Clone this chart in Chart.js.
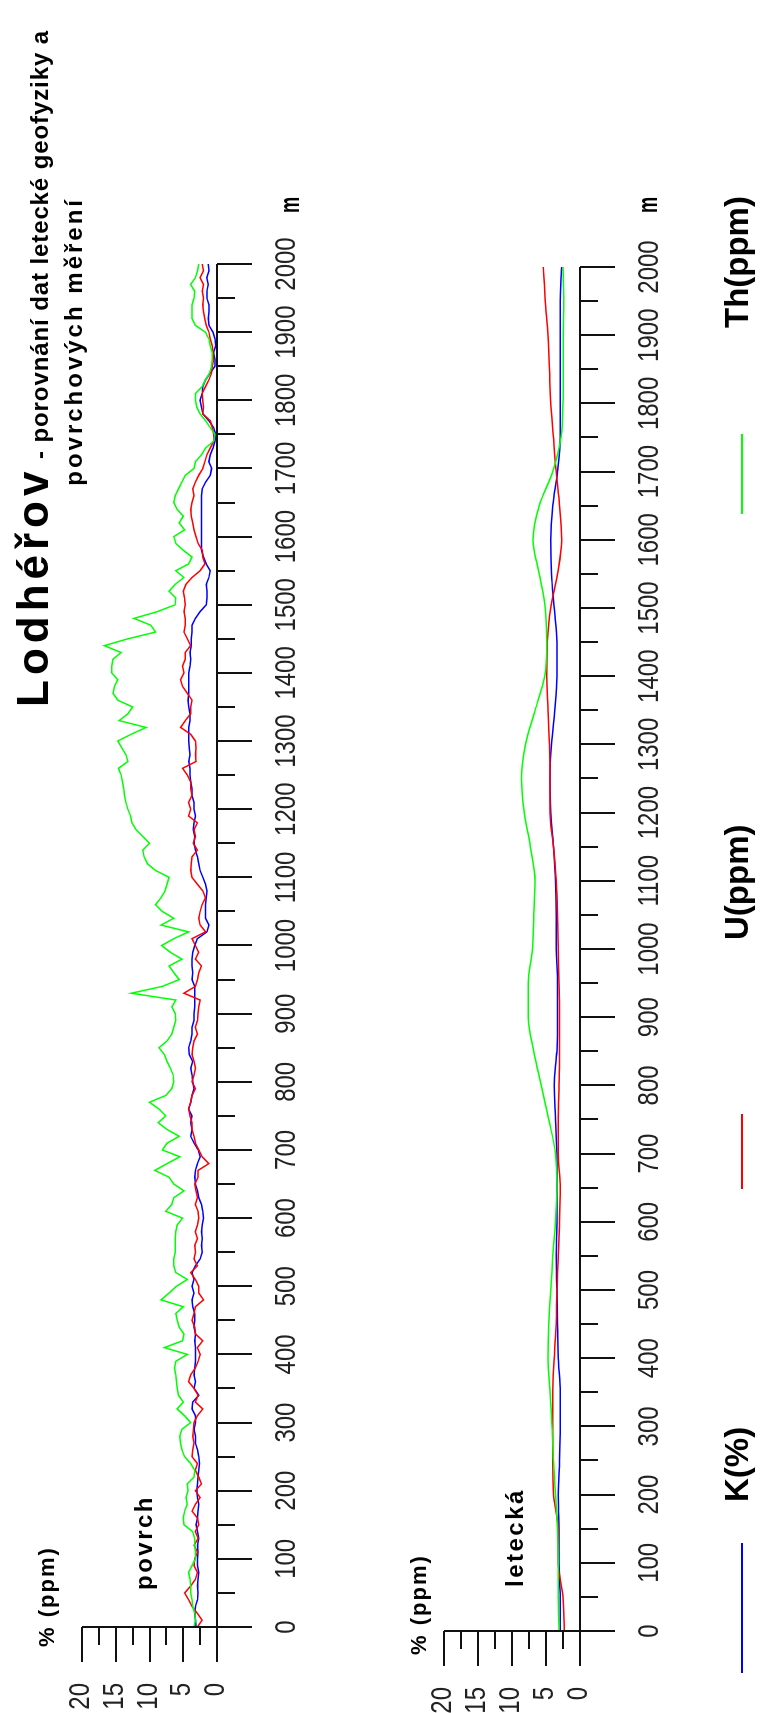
<!DOCTYPE html>
<html>
<head>
<meta charset="utf-8">
<script src="https://cdn.jsdelivr.net/npm/chart.js@4"></script>
<style>
  html, body { margin: 0; padding: 0; background: #fff; width: 779px; height: 1713px; overflow: hidden; }
  #land {
    position: absolute; left: 0; top: 0; width: 1713px; height: 779px;
    transform-origin: 0 0; transform: translate(0, 1713px) rotate(-90deg);
    font-family: "Liberation Sans", Arial, sans-serif; color: #000;
  }
  #land canvas { position: absolute; left: 0; top: 0; }
  .t { position: absolute; white-space: nowrap; font-weight: bold; line-height: 1; }
  .leg { position: absolute; height: 2px; }
</style>
</head>
<body>
<div id="land">
  <canvas id="surf" width="1713" height="779"></canvas>
  <canvas id="air" width="1713" height="779"></canvas>

  <div class="t" style="left:1006px; top:11px; display:flex; align-items:baseline;">
    <span style="font-size:44px; letter-spacing:5px;">Lodhéřov</span>
    <span style="font-size:24px; letter-spacing:0.9px; white-space:pre;"> - porovnání dat letecké geofyziky a</span>
  </div>
  <div class="t" style="right:197px; top:62px; font-size:24px; letter-spacing:3px;">povrchových měření</div>

  <div class="t" style="left:66px; top:36px; font-size:22px; letter-spacing:2px;">% (ppm)</div>
  <div class="t" style="left:58px; top:408px; font-size:22px; letter-spacing:2px;">% (ppm)</div>
  <div class="t" style="left:123px; top:132px; font-size:24px; letter-spacing:2.5px;">povrch</div>
  <div class="t" style="left:126px; top:503px; font-size:24px; letter-spacing:2.5px;">letecká</div>
  <div class="t" style="left:1500px; top:276px; font-size:28px; transform:scaleX(0.65); transform-origin:0 0;">m</div>
  <div class="t" style="left:1500px; top:634px; font-size:28px; transform:scaleX(0.65); transform-origin:0 0;">m</div>

  <div class="leg" style="left:40px; top:741px; width:130px; background:#0000ff;"></div>
  <div class="t" style="left:211px; top:720px; font-size:33px;">K(%)</div>
  <div class="leg" style="left:524px; top:741px; width:75px; background:#ff0000;"></div>
  <div class="t" style="left:773px; top:720px; font-size:33px;">U(ppm)</div>
  <div class="leg" style="left:1199px; top:741px; width:80px; background:#00ff00;"></div>
  <div class="t" style="left:1385px; top:720px; font-size:33px;">Th(ppm)</div>
</div>

<script>
// distance along profile, m
const stepSurf = 10;
const stepAir = 50;
const xTicksMajor = [0, 100, 200, 300, 400, 500, 600, 700, 800, 900, 1000, 1100, 1200, 1300, 1400, 1500, 1600, 1700, 1800, 1900, 2000];
const yTickLabels = [0, 5, 10, 15, 20];

// povrch (surface measurement), every 10 m from 0 to 2000
const thSurf = [
  3.4, 3.2, 3.3, 3.6, 3.7, 3.9, 3.9, 4.0, 4.2, 3.7,
  3.2, 3.2, 3.3, 3.3, 3.6, 4.9, 5.0, 4.8, 4.4, 4.6,
  4.3, 4.4, 3.4, 3.3, 3.9, 4.8, 5.2, 5.4, 5.5, 5.2,
  3.9, 4.8, 5.9, 5.0, 5.7, 5.9, 6.0, 6.1, 6.3, 6.1,
  4.4, 7.8, 5.1, 4.9, 5.6, 5.9, 6.1, 5.0, 8.3, 7.1,
  6.0, 4.4, 6.1, 6.4, 6.4, 6.2, 6.2, 6.2, 6.1, 5.9,
  5.1, 7.6, 6.7, 6.4, 4.9, 6.4, 7.1, 9.2, 7.4, 5.5,
  8.1, 7.4, 5.6, 7.4, 8.7, 7.6, 8.6, 10.0, 7.6, 6.7,
  6.4, 6.5, 6.9, 7.4, 7.8, 8.6, 7.4, 6.7, 6.4, 6.1,
  6.2, 6.7, 6.1, 12.7, 8.1, 5.6, 6.4, 7.1, 5.2, 6.9,
  8.2, 6.4, 4.2, 8.3, 6.4, 8.1, 9.1, 8.3, 7.7, 7.4,
  7.1, 9.1, 10.3, 10.8, 11.0, 10.0, 11.0, 12.0, 12.6, 12.8,
  13.2, 13.5, 13.7, 13.8, 14.0, 14.2, 14.6, 13.2, 13.5, 14.1,
  14.7, 12.7, 10.5, 14.5, 13.2, 12.5, 14.7, 15.4, 15.2, 14.7,
  15.6, 15.6, 15.4, 14.2, 16.7, 13.2, 9.1, 9.8, 12.3, 8.8,
  6.2, 6.1, 7.1, 6.2, 4.9, 6.1, 4.2, 3.7, 5.0, 6.1,
  6.4, 4.8, 5.6, 5.0, 5.9, 6.4, 6.2, 5.7, 5.2, 4.7,
  3.4, 3.2, 2.3, 1.7, 0.5, 0.3, 1.0, 1.7, 2.5, 3.0,
  3.2, 3.2, 2.2, 1.7, 1.1, 0.8, 0.7, 0.7, 1.0, 1.2,
  1.7, 3.2, 3.7, 3.7, 3.7, 3.4, 3.3, 3.9, 3.2, 2.9,
  2.7
];
const uSurf = [
  2.9, 2.2, 2.9, 3.7, 4.2, 4.8, 3.9, 3.2, 2.9, 3.4,
  3.3, 2.9, 3.4, 2.8, 3.2, 2.7, 2.9, 3.7, 3.2, 2.5,
  3.2, 2.3, 2.7, 3.2, 2.9, 3.7, 3.6, 3.4, 3.6, 3.5,
  3.4, 2.9, 2.1, 3.2, 2.8, 3.4, 4.2, 3.9, 3.2, 2.8,
  2.5, 2.9, 2.1, 3.2, 3.3, 3.7, 3.4, 3.2, 2.0, 2.7,
  2.7, 3.2, 3.9, 2.9, 3.4, 3.2, 3.3, 2.9, 3.2, 2.9,
  2.7, 2.8, 3.2, 2.9, 3.1, 3.3, 2.8, 2.8, 1.2, 2.2,
  2.7, 3.2, 3.4, 3.7, 3.7, 4.0, 4.2, 3.9, 3.7, 3.2,
  3.7, 3.4, 3.2, 3.4, 3.7, 3.6, 3.4, 2.9, 3.2, 2.9,
  2.8, 2.7, 2.5, 4.9, 3.2, 2.9, 2.7, 2.3, 3.2, 2.7,
  3.2, 3.7, 1.7, 2.5, 2.7, 2.5, 2.2, 1.7, 2.1, 2.9,
  3.7, 3.9, 3.8, 3.7, 2.9, 3.5, 3.2, 3.4, 2.9, 4.2,
  3.9, 4.2, 3.7, 3.9, 3.9, 4.4, 5.1, 3.1, 3.2, 3.1,
  3.2, 3.9, 5.4, 4.7, 3.9, 3.9, 3.7, 4.4, 5.1, 5.4,
  4.9, 5.1, 4.7, 4.7, 3.9, 4.4, 4.9, 4.7, 4.7, 4.9,
  4.7, 4.8, 5.0, 4.6, 3.7, 2.5, 1.8, 2.1, 2.2, 2.8,
  3.1, 3.4, 3.6, 3.8, 3.9, 3.7, 3.4, 3.6, 3.2, 2.7,
  2.1, 1.8, 1.5, 1.0, 0.5, 0.5, 0.7, 1.0, 2.1, 2.0,
  2.1, 2.2, 1.7, 1.2, 0.8, 0.7, 0.5, 0.6, 0.7, 1.0,
  1.2, 1.6, 1.8, 2.0, 2.1, 2.0, 2.2, 2.0, 2.5, 2.0,
  2.2
];
const kSurf = [
  3.1, 3.2, 3.3, 3.2, 2.9, 2.8, 2.9, 2.8, 2.7, 2.9,
  2.9, 2.8, 2.9, 2.7, 2.9, 3.1, 2.9, 2.8, 2.7, 2.9,
  3.0, 2.9, 2.8, 2.7, 2.6, 2.7, 2.9, 3.2, 3.2, 3.4,
  3.2, 3.2, 3.7, 3.6, 2.7, 3.4, 3.2, 3.4, 3.3, 3.2,
  3.2, 3.2, 3.3, 3.2, 3.4, 3.3, 3.3, 3.6, 3.7, 3.4,
  3.7, 3.4, 3.7, 3.2, 2.5, 2.2, 2.3, 2.2, 2.3, 2.2,
  2.0, 2.1, 2.3, 2.7, 2.9, 3.2, 3.3, 3.2, 2.9, 2.5,
  2.8, 3.4, 3.9, 3.7, 3.9, 3.7, 4.2, 3.9, 3.7, 3.4,
  3.6, 3.7, 3.9, 3.6, 4.1, 4.2, 3.9, 3.7, 3.7, 3.4,
  3.4, 3.3, 3.3, 3.3, 3.3, 3.7, 3.6, 3.7, 3.7, 3.6,
  3.3, 2.9, 1.5, 1.2, 1.7, 1.7, 1.7, 1.6, 1.5, 1.7,
  2.1, 2.5, 2.7, 2.9, 3.2, 3.4, 3.3, 3.5, 3.4, 3.2,
  3.4, 3.4, 3.7, 3.7, 3.9, 4.0, 4.0, 4.2, 4.0, 4.1,
  4.2, 4.2, 4.2, 4.0, 4.0, 4.2, 4.3, 4.2, 4.2, 4.2,
  4.2, 4.0, 3.9, 4.0, 3.8, 3.8, 3.7, 3.7, 3.2, 2.5,
  1.6, 1.5, 1.5, 1.6, 1.2, 1.0, 1.6, 2.0, 2.3, 2.3,
  2.3, 2.3, 2.3, 2.3, 2.3, 2.3, 2.3, 2.2, 1.7, 1.0,
  0.8, 1.2, 1.0, 0.6, 0.3, 0.2, 0.5, 1.2, 2.1, 2.3,
  2.5, 2.2, 2.1, 1.7, 1.0, 0.3, 0.3, 0.5, 0.2, 0.3,
  0.6, 1.2, 1.3, 1.2, 1.2, 1.5, 1.5, 1.3, 1.5, 1.2,
  1.3
];

// letecká (airborne), every 50 m from 0 to 2000
const thAir = [
  3.1, 3.2, 3.2, 3.3, 3.6, 3.9, 4.1, 4.4, 4.7, 4.6,
  4.3, 4.0, 3.6, 3.4, 3.6, 4.6, 5.7, 6.8, 7.6, 7.6,
  7.0, 6.8, 6.6, 7.3, 8.2, 8.6, 8.0, 6.6, 5.2, 4.9,
  5.1, 6.0, 6.9, 6.0, 4.0, 2.8, 2.5, 2.45, 2.45, 2.4,
  2.5
];
const uAir = [
  2.3, 2.5, 3.2, 3.2, 3.9, 4.0, 4.0, 4.0, 3.8, 3.5,
  3.4, 3.2, 3.0, 2.9, 3.2, 3.2, 3.1, 3.0, 3.0, 3.1,
  3.2, 3.3, 3.5, 3.9, 4.4, 4.4, 4.5, 4.7, 4.9, 4.8,
  4.3, 3.3, 2.7, 3.0, 3.5, 3.9, 4.3, 4.5, 4.7, 5.1,
  5.4
];
const kAir = [
  2.9, 2.9, 3.1, 3.1, 3.2, 3.0, 2.9, 2.9, 3.2, 3.3,
  3.4, 3.5, 3.4, 3.4, 3.4, 3.6, 3.8, 3.4, 3.3, 3.3,
  3.5, 3.5, 3.6, 3.9, 4.3, 4.4, 4.2, 3.7, 3.4, 3.4,
  3.8, 4.2, 4.3, 4.0, 3.3, 2.9, 2.9, 2.9, 2.9, 2.9,
  2.7
];

const toPoints = (vals, step) => vals.map((v, i) => ({ x: i * step, y: v }));

// hand-drawn axes, positioned from the chart's own scales
const profileAxes = {
  id: 'profileAxes',
  afterDraw(chart) {
    const { ctx } = chart;
    const xs = chart.scales.x, ys = chart.scales.y;
    const x0 = xs.getPixelForValue(0), x1 = xs.getPixelForValue(2000);
    const y0 = ys.getPixelForValue(0), y1 = ys.getPixelForValue(20);
    ctx.save();
    ctx.strokeStyle = '#111';
    ctx.lineWidth = 2;
    ctx.beginPath();
    ctx.moveTo(x0, y0); ctx.lineTo(x1, y0);
    ctx.moveTo(x0, y0); ctx.lineTo(x0, y1);
    for (let m = 0; m <= 2000; m += 50) {
      const px = Math.round(xs.getPixelForValue(m));
      ctx.moveTo(px, y0); ctx.lineTo(px, y0 + (m % 100 === 0 ? 35 : 18));
    }
    for (let v = 0; v <= 20; v += 2.5) {
      const py = Math.round(ys.getPixelForValue(v));
      ctx.moveTo(x0, py); ctx.lineTo(x0 - (v % 5 === 0 ? 35 : 18), py);
    }
    ctx.stroke();

    ctx.fillStyle = '#222';
    ctx.font = '30px "Liberation Sans", Arial, sans-serif';
    ctx.textBaseline = 'alphabetic';
    const narrow = (txt, px, py, align) => {
      ctx.save();
      ctx.translate(px, py);
      ctx.scale(0.8, 1);
      ctx.textAlign = align;
      ctx.fillText(txt, 0, 0);
      ctx.restore();
    };
    xTicksMajor.forEach(m => narrow(String(m), xs.getPixelForValue(m), y0 + 78, 'center'));
    yTickLabels.forEach(v => narrow(String(v), x0 - 56, ys.getPixelForValue(v) + 7, 'right'));
    ctx.restore();
  }
};

function makeChart(id, th, u, k, step, pad, smooth) {
  const line = (data, color) => ({
    data: toPoints(data, step),
    borderColor: color,
    borderWidth: 1.5,
    pointRadius: 0,
    fill: false,
    tension: smooth ? 0.4 : 0,
    cubicInterpolationMode: smooth ? 'monotone' : 'default',
  });
  return new Chart(document.getElementById(id), {
    type: 'line',
    data: {
      datasets: [line(th, '#00ff00'), line(u, '#ff0000'), line(k, '#0000ff')],
    },
    options: {
      responsive: false,
      animation: false,
      layout: { padding: pad },
      scales: {
        x: { type: 'linear', min: 0, max: 2000, display: false },
        y: { min: 0, max: 20, display: false },
      },
      plugins: { legend: { display: false }, tooltip: { enabled: false } },
    },
    plugins: [profileAxes],
  });
}

makeChart('surf', thSurf, uSurf, kSurf, stepSurf, { left: 86, right: 264, top: 82, bottom: 562 }, false);
makeChart('air', thAir, uAir, kAir, stepAir, { left: 82, right: 267, top: 444, bottom: 199 }, true);
</script>
</body>
</html>
